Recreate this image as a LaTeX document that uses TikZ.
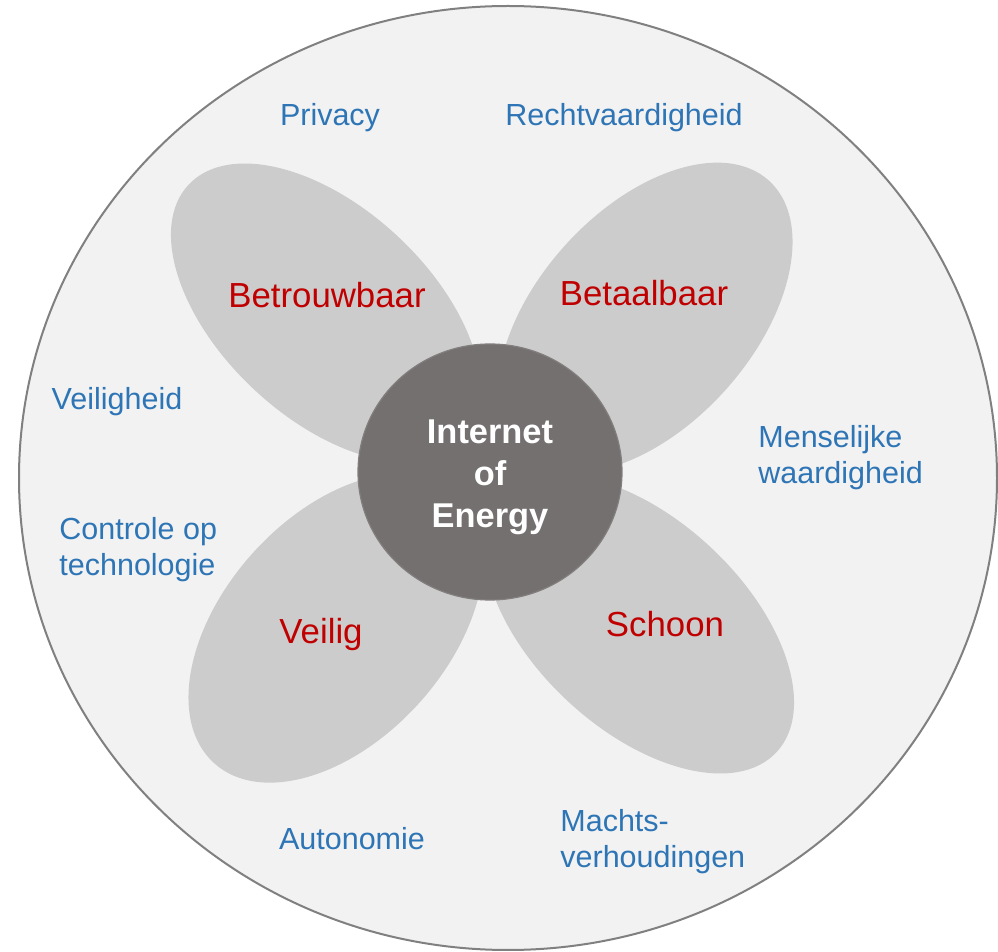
\documentclass[tikz,border=0pt]{standalone}
\usepackage{fontspec}
\setmainfont{Liberation Sans}
\usepackage{xcolor}
\definecolor{waardeblauw}{RGB}{46,117,182}
\definecolor{pijlerrood}{RGB}{192,0,0}
\definecolor{bladgrijs}{RGB}{204,204,204}
\definecolor{kerngrijs}{RGB}{116,112,111}
\definecolor{achtergrond}{RGB}{242,242,242}
\definecolor{randgrijs}{RGB}{128,128,128}

\begin{document}
\begin{tikzpicture}[x=0.5pt,y=-0.5pt,
    waarde/.style={text=waardeblauw,inner sep=0pt,align=left,font=\fontsize{15.25}{18}\selectfont},
    pijler/.style={text=pijlerrood,inner sep=0pt,font=\fontsize{17.4}{21}\selectfont},
    blad/.style={fill=bladgrijs}]
            \useasboundingbox (0,0) rectangle (998,952);
            \draw[fill=achtergrond,draw=randgrijs,line width=1pt] (508,478) ellipse [x radius=489,y radius=472];
            \fill[blad,rotate around={-43:(326,313)}] (326,313) ellipse [x radius=188,y radius=105];
            \fill[blad,rotate around={48:(645,318)}] (645,318) ellipse [x radius=185,y radius=108];
            \fill[blad,rotate around={48:(336,628)}] (336,628) ellipse [x radius=182,y radius=112];
            \fill[blad,rotate around={-43:(639,624)}] (639,624) ellipse [x radius=188,y radius=105];
            \draw[fill=kerngrijs,draw=kerngrijs!90!white,line width=0.6pt] (490,472) ellipse [x radius=132,y radius=128];
            \node[text=white,align=center,inner sep=0pt,font=\bfseries\fontsize{17.2}{21}\selectfont] (ioe) at (490,477) {Internet\\of\\Energy};
            \node[pijler,anchor=base] (betrouwbaar) at (327,308) {Betrouwbaar};
            \node[pijler,anchor=base] (betaalbaar) at (644,306) {Betaalbaar};
            \node[pijler,anchor=base] (veilig) at (321,644) {Veilig};
            \node[pijler,anchor=base] (schoon) at (665,637) {Schoon};
            \node[waarde,anchor=base] (privacy) at (330,126) {Privacy};
            \node[waarde,anchor=base] (recht) at (624,126) {Rechtvaardigheid};
            \node[waarde,anchor=base] (veiligheid) at (117,410) {Veiligheid};
            \node[waarde,anchor=base] (autonomie) at (352,849) {Autonomie};
            \node[waarde,anchor=base west] (menselijk) at (758,484) {Menselijke\\waardigheid};
            \node[waarde,anchor=base west] (controle) at (59,576) {Controle op\\technologie};
            \node[waarde,anchor=base west] (macht) at (560,868) {Machts-\\verhoudingen};
        \end{tikzpicture}
\end{document}
